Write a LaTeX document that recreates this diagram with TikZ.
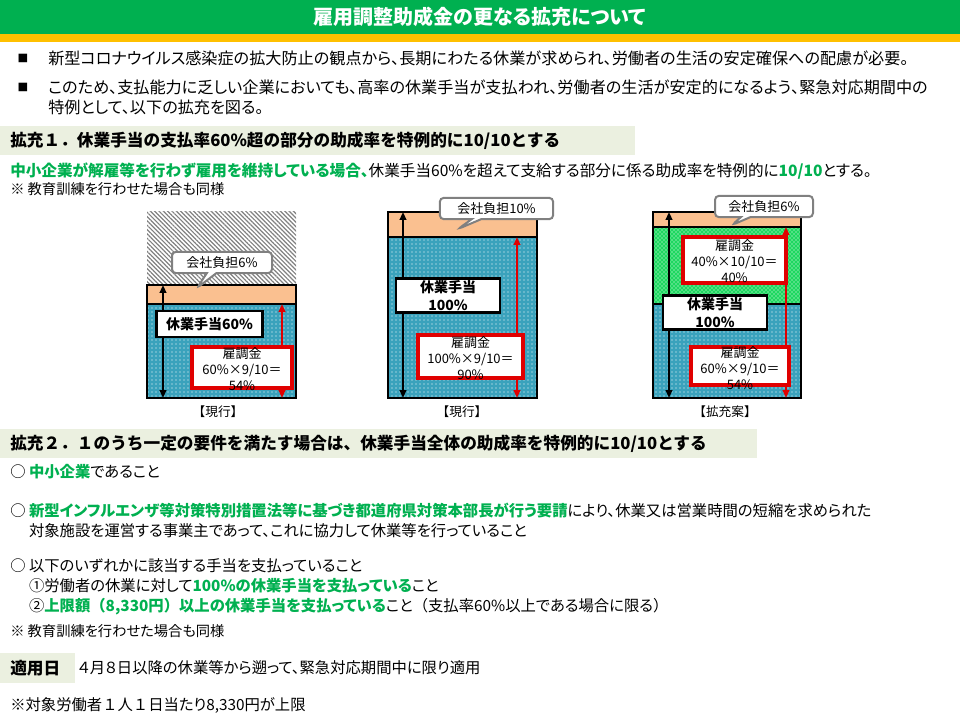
\documentclass[tikz,border=0pt]{standalone}
\usepackage{fontspec}
\setmainfont{Noto Sans CJK JP}[RawFeature=+palt]
\newfontfamily\plainjp{Noto Sans CJK JP}
\usetikzlibrary{positioning,patterns,patterns.meta,shapes.callouts,arrows.meta}
\definecolor{hdgreen}{HTML}{00B050}
\definecolor{hdyellow}{HTML}{FFC000}
\definecolor{band}{HTML}{EBF0E0}
\definecolor{hl}{HTML}{00B050}
\definecolor{aqua}{HTML}{3AA2BC}
\definecolor{peach}{HTML}{FAC090}
\definecolor{mint}{HTML}{1ED760}
\definecolor{alarm}{HTML}{E00000}
\begin{document}
\begin{tikzpicture}[x=0.75pt,y=-0.75pt,
  body/.style={anchor=west,inner sep=0pt,align=left,font=\fontsize{11.5}{15}\selectfont},
  lead/.style={body,font=\fontsize{12.1}{15}\selectfont},
  small/.style={anchor=west,inner sep=0pt,font=\fontsize{10.7}{12}\selectfont},
  head/.style={anchor=west,inner sep=0pt,font=\plainjp\bfseries\fontsize{12.5}{16}\selectfont},
  barcap/.style={inner sep=0pt,font=\plainjp\fontsize{9.5}{11}\selectfont},
  rim/.style={draw=black,line width=1.5pt},
  aquafill/.style={preaction={fill=aqua},pattern=dots,pattern color=white},
  mintfill/.style={preaction={fill=mint},pattern=crosshatch dots,pattern color=white},
  paybox/.style={draw=black,line width=2.2pt,fill=white,align=center,inner sep=1pt,
    font=\bfseries\fontsize{10.5}{13}\selectfont},
  kinbox/.style={draw=alarm,line width=3pt,fill=white},
  kintext/.style={align=center,inner sep=0pt,font=\fontsize{9.75}{12}\selectfont},
  burden/.style={rectangle callout,draw=gray,line width=1.5pt,fill=white,rounded corners=3pt,
    inner sep=0pt,minimum height=16pt,font=\fontsize{9.75}{12}\selectfont},
  blkarrow/.style={{Triangle[length=6pt,width=5pt]}-{Triangle[length=6pt,width=5pt]},line width=1.8pt},
  redarrow/.style={blkarrow,alarm}]
\useasboundingbox (0,0) rectangle (960,720);
% title
\fill[hdgreen] (0,0) rectangle (960,34);
\fill[hdyellow] (0,34) rectangle (960,42);
\node[inner sep=0pt,text=white,font=\bfseries\fontsize{15}{18}\selectfont] (title) at (480,17) {雇用調整助成金の更なる拡充について};
% bullets
\foreach \n/\y in {1/58,2/87}
  \node[inner sep=0pt,font=\fontsize{8}{10}\selectfont] (sq\n) at (23,\y) {■};
\node[lead] (b1) at (48,58) {新型コロナウイルス感染症の拡大防止の観点から、長期にわたる休業が求められ、労働者の生活の安定確保への配慮が必要。};
\node[lead] (b2) at (48,97) {このため、支払能力に乏しい企業においても、高率の休業手当が支払われ、労働者の生活が安定的になるよう、緊急対応期間中の\\特例として、以下の拡充を図る。};
% part 1
\fill[band] (0,126) rectangle (635,155);
\node[head] (h1) at (10,140.5) {拡充１．休業手当の支払率60\%超の部分の助成率を特例的に10/10とする};
\node[body,font=\fontsize{11.7}{15}\selectfont] (s1) at (10,171) {{\bfseries\color{hl}中小企業が解雇等を行わず雇用を維持している場合、}休業手当60\%を超えて支給する部分に係る助成率を特例的に{\bfseries\color{hl}10/10}とする。};
\node[small] (n1) at (10,189) {※ 教育訓練を行わせた場合も同様};
% bar 1
\fill[pattern={Lines[angle=-45,distance=2.3pt,line width=0.9pt]},pattern color=gray] (147,212) rectangle (296,285);
\draw[rim,fill=peach] (147,285) rectangle (296,304);
\draw[rim,aquafill] (147,304) rectangle (296,398);
\coordinate (p1t) at (163,285); \coordinate (p1b) at (163,398);
\coordinate (k1t) at (282,304); \coordinate (k1b) at (282,398);
\draw[blkarrow] (p1t) -- (p1b);
\draw[redarrow] (k1t) -- (k1b);
\node[paybox,minimum width=79pt,minimum height=19.5pt] (pay1) at (209.5,324) {休業手当60\%};
\node[kinbox,minimum width=75pt,minimum height=31pt] (kin1) at (242,367.5) {};
\node[kintext] (kin1t) at (242,369) {雇調金\\60\%×9/10＝\\54\%};
% bar 2
\draw[rim,fill=peach] (388,212) rectangle (537,237);
\draw[rim,aquafill] (388,237) rectangle (537,398);
\coordinate (p2t) at (403,212); \coordinate (p2b) at (403,398);
\coordinate (k2t) at (517,237); \coordinate (k2b) at (517,398);
\draw[blkarrow] (p2t) -- (p2b);
\draw[redarrow] (k2t) -- (k2b);
\node[paybox,minimum width=78pt,minimum height=26pt] (pay2) at (448,295.5) {休業手当\\100\%};
\node[kinbox,minimum width=79pt,minimum height=32pt] (kin2) at (470.5,356.5) {};
\node[kintext] (kin2t) at (470.5,358) {雇調金\\100\%×9/10＝\\90\%};
% bar 3
\draw[rim,fill=peach] (653,212) rectangle (801,227);
\draw[rim,mintfill] (653,227) rectangle (801,304);
\draw[rim,aquafill] (653,304) rectangle (801,398);
\coordinate (p3t) at (669,212); \coordinate (p3b) at (669,398);
\coordinate (k3t) at (786,227); \coordinate (k3b) at (786,398);
\draw[blkarrow] (p3t) -- (p3b);
\draw[redarrow] (k3t) -- (k3b);
\node[kinbox,minimum width=77pt,minimum height=34.5pt] (kin3) at (734.5,260) {};
\node[kintext] (kin3t) at (734.5,261) {雇調金\\40\%×10/10＝\\40\%};
\node[paybox,minimum width=78pt,minimum height=26pt] (pay3) at (715,312.5) {休業手当\\100\%};
\node[kinbox,minimum width=73.5pt,minimum height=28.5pt] (kin4) at (740,366) {};
\node[kintext] (kin4t) at (740,368) {雇調金\\60\%×9/10＝\\54\%};
% company share callouts
\foreach \n/\x/\y/\tx/\ty/\w/\t in {1/222/262.5/197/288/75pt/会社負担6\%,
    2/496.5/208.5/458/229/85pt/会社負担10\%, 3/764/206.5/732/225/73.5pt/会社負担6\%} {
  \coordinate (tip\n) at (\tx,\ty);
  \node[burden,minimum width=\w,callout absolute pointer=(tip\n)] (share\n) at (\x,\y) {\t};
}
\foreach \n/\x/\t in {1/218/【現行】,2/462/【現行】,3/725/【拡充案】}
  \node[barcap] (cap\n) at (\x,412) {\t};
% part 2
\fill[band] (0,429) rectangle (757,458);
\node[head] (h2) at (10,443.5) {拡充２．１のうち一定の要件を満たす場合は、休業手当全体の助成率を特例的に10/10とする};
\node[body] (c1) at (10,472) {○ {\bfseries\color{hl}中小企業}であること};
\node[body] (c2) at (10,520) {○ {\bfseries\color{hl}新型インフルエンザ等対策特別措置法等に基づき都道府県対策本部長が行う要請}により、休業又は営業時間の短縮を求められた\\\phantom{○ }対象施設を運営する事業主であって、これに協力して休業等を行っていること};
\node[body] (c3) at (10,587) {○ 以下のいずれかに該当する手当を支払っていること\\\phantom{○ }①労働者の休業に対して{\bfseries\color{hl}100\%の休業手当を支払っている}こと\\\phantom{○ }②{\bfseries\color{hl}上限額{\plainjp（}8,330円{\plainjp）}以上の休業手当を支払っている}こと{\plainjp（}支払率60\%以上である場合に限る{\plainjp）}};
\node[small] (n2) at (10,631) {※ 教育訓練を行わせた場合も同様};
% date
\fill[band] (0,653) rectangle (75,683);
\node[head] (apply) at (10,668) {適用日};
\node[body] (applyt) at (78,668) {４月８日以降の休業等から遡って、緊急対応期間中に限り適用};
\node[body] (limit) at (10,705) {※対象労働者{\plainjp １人１日}当たり8,330円が上限};
\end{tikzpicture}
\end{document}
